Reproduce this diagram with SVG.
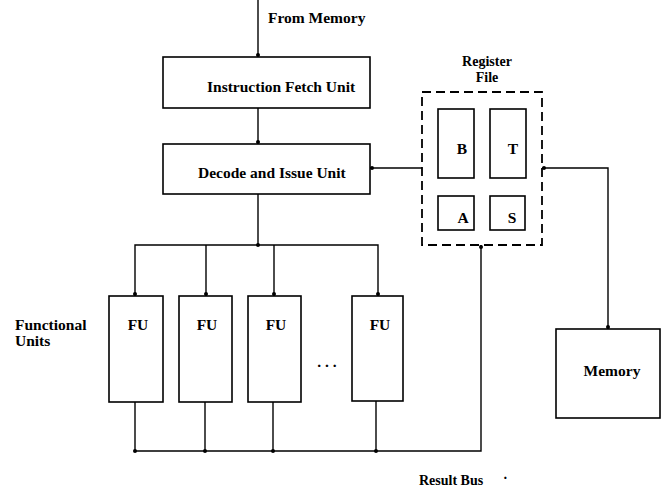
<svg xmlns="http://www.w3.org/2000/svg" width="661" height="489" viewBox="0 0 661 489">
<defs>
<style>
.box{fill:#fff;stroke:#000;stroke-width:1.6}
.dash{fill:none;stroke:#000;stroke-width:1.8;stroke-dasharray:9,5}
.ln{fill:none;stroke:#000;stroke-width:1.4}
.t{font-family:"Liberation Serif",serif;font-weight:bold;font-size:15.5px;fill:#000}
.s{font-size:14px}
.dot{fill:#000}
</style>
</defs>
<rect width="661" height="489" fill="#fff"/>
<g id="connectors">
<path class="ln" d="M258,0 V57"/>
<path class="ln" d="M258,108 V144"/>
<path class="ln" d="M370,168 H422"/>
<path class="ln" d="M258,194 V245"/>
<path class="ln" d="M135,296 V245 H378 V296"/>
<path class="ln" d="M206,245 V296"/>
<path class="ln" d="M274,245 V296"/>
<path class="ln" d="M135,402 V451 H481 V245"/>
<path class="ln" d="M205,402 V451"/>
<path class="ln" d="M273,402 V451"/>
<path class="ln" d="M376,401 V451"/>
<path class="ln" d="M542,168 H608 V329"/>
<circle class="dot" cx="258" cy="55" r="2"/>
<circle class="dot" cx="258" cy="142" r="2"/>
<circle class="dot" cx="372" cy="168" r="2"/>
<circle class="dot" cx="258" cy="245" r="2"/>
<circle class="dot" cx="135" cy="294" r="2"/>
<circle class="dot" cx="206" cy="294" r="2"/>
<circle class="dot" cx="274" cy="294" r="2"/>
<circle class="dot" cx="378" cy="294" r="2"/>
<circle class="dot" cx="135" cy="451" r="2"/>
<circle class="dot" cx="205" cy="451" r="2"/>
<circle class="dot" cx="273" cy="451" r="2"/>
<circle class="dot" cx="376" cy="451" r="2"/>
<circle class="dot" cx="481" cy="247" r="2"/>
<circle class="dot" cx="544" cy="168" r="2"/>
<circle class="dot" cx="608" cy="327" r="2"/>
</g>
<g id="from-memory"><text class="t" x="268" y="23">From Memory</text></g>
<g id="ifu"><rect class="box" x="163" y="57" width="207" height="51"/><text class="t" x="207" y="92">Instruction Fetch Unit</text></g>
<g id="diu"><rect class="box" x="163" y="144" width="207" height="50"/><text class="t" x="198" y="178">Decode and Issue Unit</text></g>
<g id="register-file">
<text class="t s" x="487" y="66" text-anchor="middle">Register</text>
<text class="t s" x="487" y="82" text-anchor="middle">File</text>
<rect class="dash" x="422" y="92" width="120" height="153"/>
<g id="reg-b"><rect class="box" x="438" y="109" width="36" height="69"/><text class="t" x="462" y="154" text-anchor="middle">B</text></g>
<g id="reg-t"><rect class="box" x="490" y="109" width="36" height="69"/><text class="t" x="513" y="154" text-anchor="middle">T</text></g>
<g id="reg-a"><rect class="box" x="438" y="196" width="36" height="34"/><text class="t" x="463" y="223" text-anchor="middle">A</text></g>
<g id="reg-s"><rect class="box" x="490" y="196" width="35" height="34"/><text class="t" x="512" y="223" text-anchor="middle">S</text></g>
</g>
<g id="fu-label"><text class="t" x="15" y="330">Functional</text><text class="t" x="15" y="346">Units</text></g>
<g id="fu1"><rect class="box" x="109" y="296" width="54" height="106"/><text class="t" x="138" y="330" text-anchor="middle">FU</text></g>
<g id="fu2"><rect class="box" x="179" y="296" width="53" height="106"/><text class="t" x="207" y="330" text-anchor="middle">FU</text></g>
<g id="fu3"><rect class="box" x="248" y="296" width="53" height="106"/><text class="t" x="276" y="330" text-anchor="middle">FU</text></g>
<g id="ellipsis"><text class="t" x="327" y="367" text-anchor="middle">. . .</text></g>
<g id="fu4"><rect class="box" x="352" y="296" width="51" height="105"/><text class="t" x="380" y="330" text-anchor="middle">FU</text></g>
<g id="memory"><rect class="box" x="556" y="329" width="104" height="89"/><text class="t" x="612" y="376" text-anchor="middle">Memory</text></g>
<g id="result-bus"><text class="t s" x="419" y="485">Result Bus</text><text class="t s" x="503" y="483">·</text></g>
</svg>
